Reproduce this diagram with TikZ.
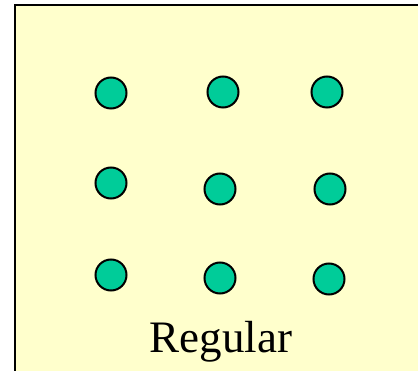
\documentclass[tikz,border=0pt]{standalone}
\usepackage{fontspec}
\setmainfont{Liberation Serif}
\usetikzlibrary{positioning}
\definecolor{cpanel}{HTML}{FFFFCC}
\definecolor{cdot}{HTML}{00CC99}
\tikzset{
  every picture/.style={line width=2pt},
  panel/.style={draw=black, fill=cpanel, line width=2.5pt},
  dot/.style={circle, draw=black, fill=cdot, minimum size=31pt, inner sep=0pt},
  caption/.style={font=\fontsize{45}{50}\selectfont, anchor=base},
}
\begin{document}
\begin{tikzpicture}[x=1pt, y=-1pt]
  \clip (0,0) rectangle (418,371);
  \path[panel] (15,5) rectangle (430,390);

  % top row
  \node[dot] (a1) at (111,93)  {};
  \node[dot] (a2) at (223,92)  {};
  \node[dot] (a3) at (327,92)  {};
  % middle row
  \node[dot] (b1) at (111,183) {};
  \node[dot] (b2) at (220,189) {};
  \node[dot] (b3) at (330,189) {};
  % bottom row
  \node[dot] (c1) at (111,275) {};
  \node[dot] (c2) at (220,278) {};
  \node[dot] (c3) at (329,279) {};

  \node[caption] (lbl) at (221,353) {Regular};
\end{tikzpicture}
\end{document}
